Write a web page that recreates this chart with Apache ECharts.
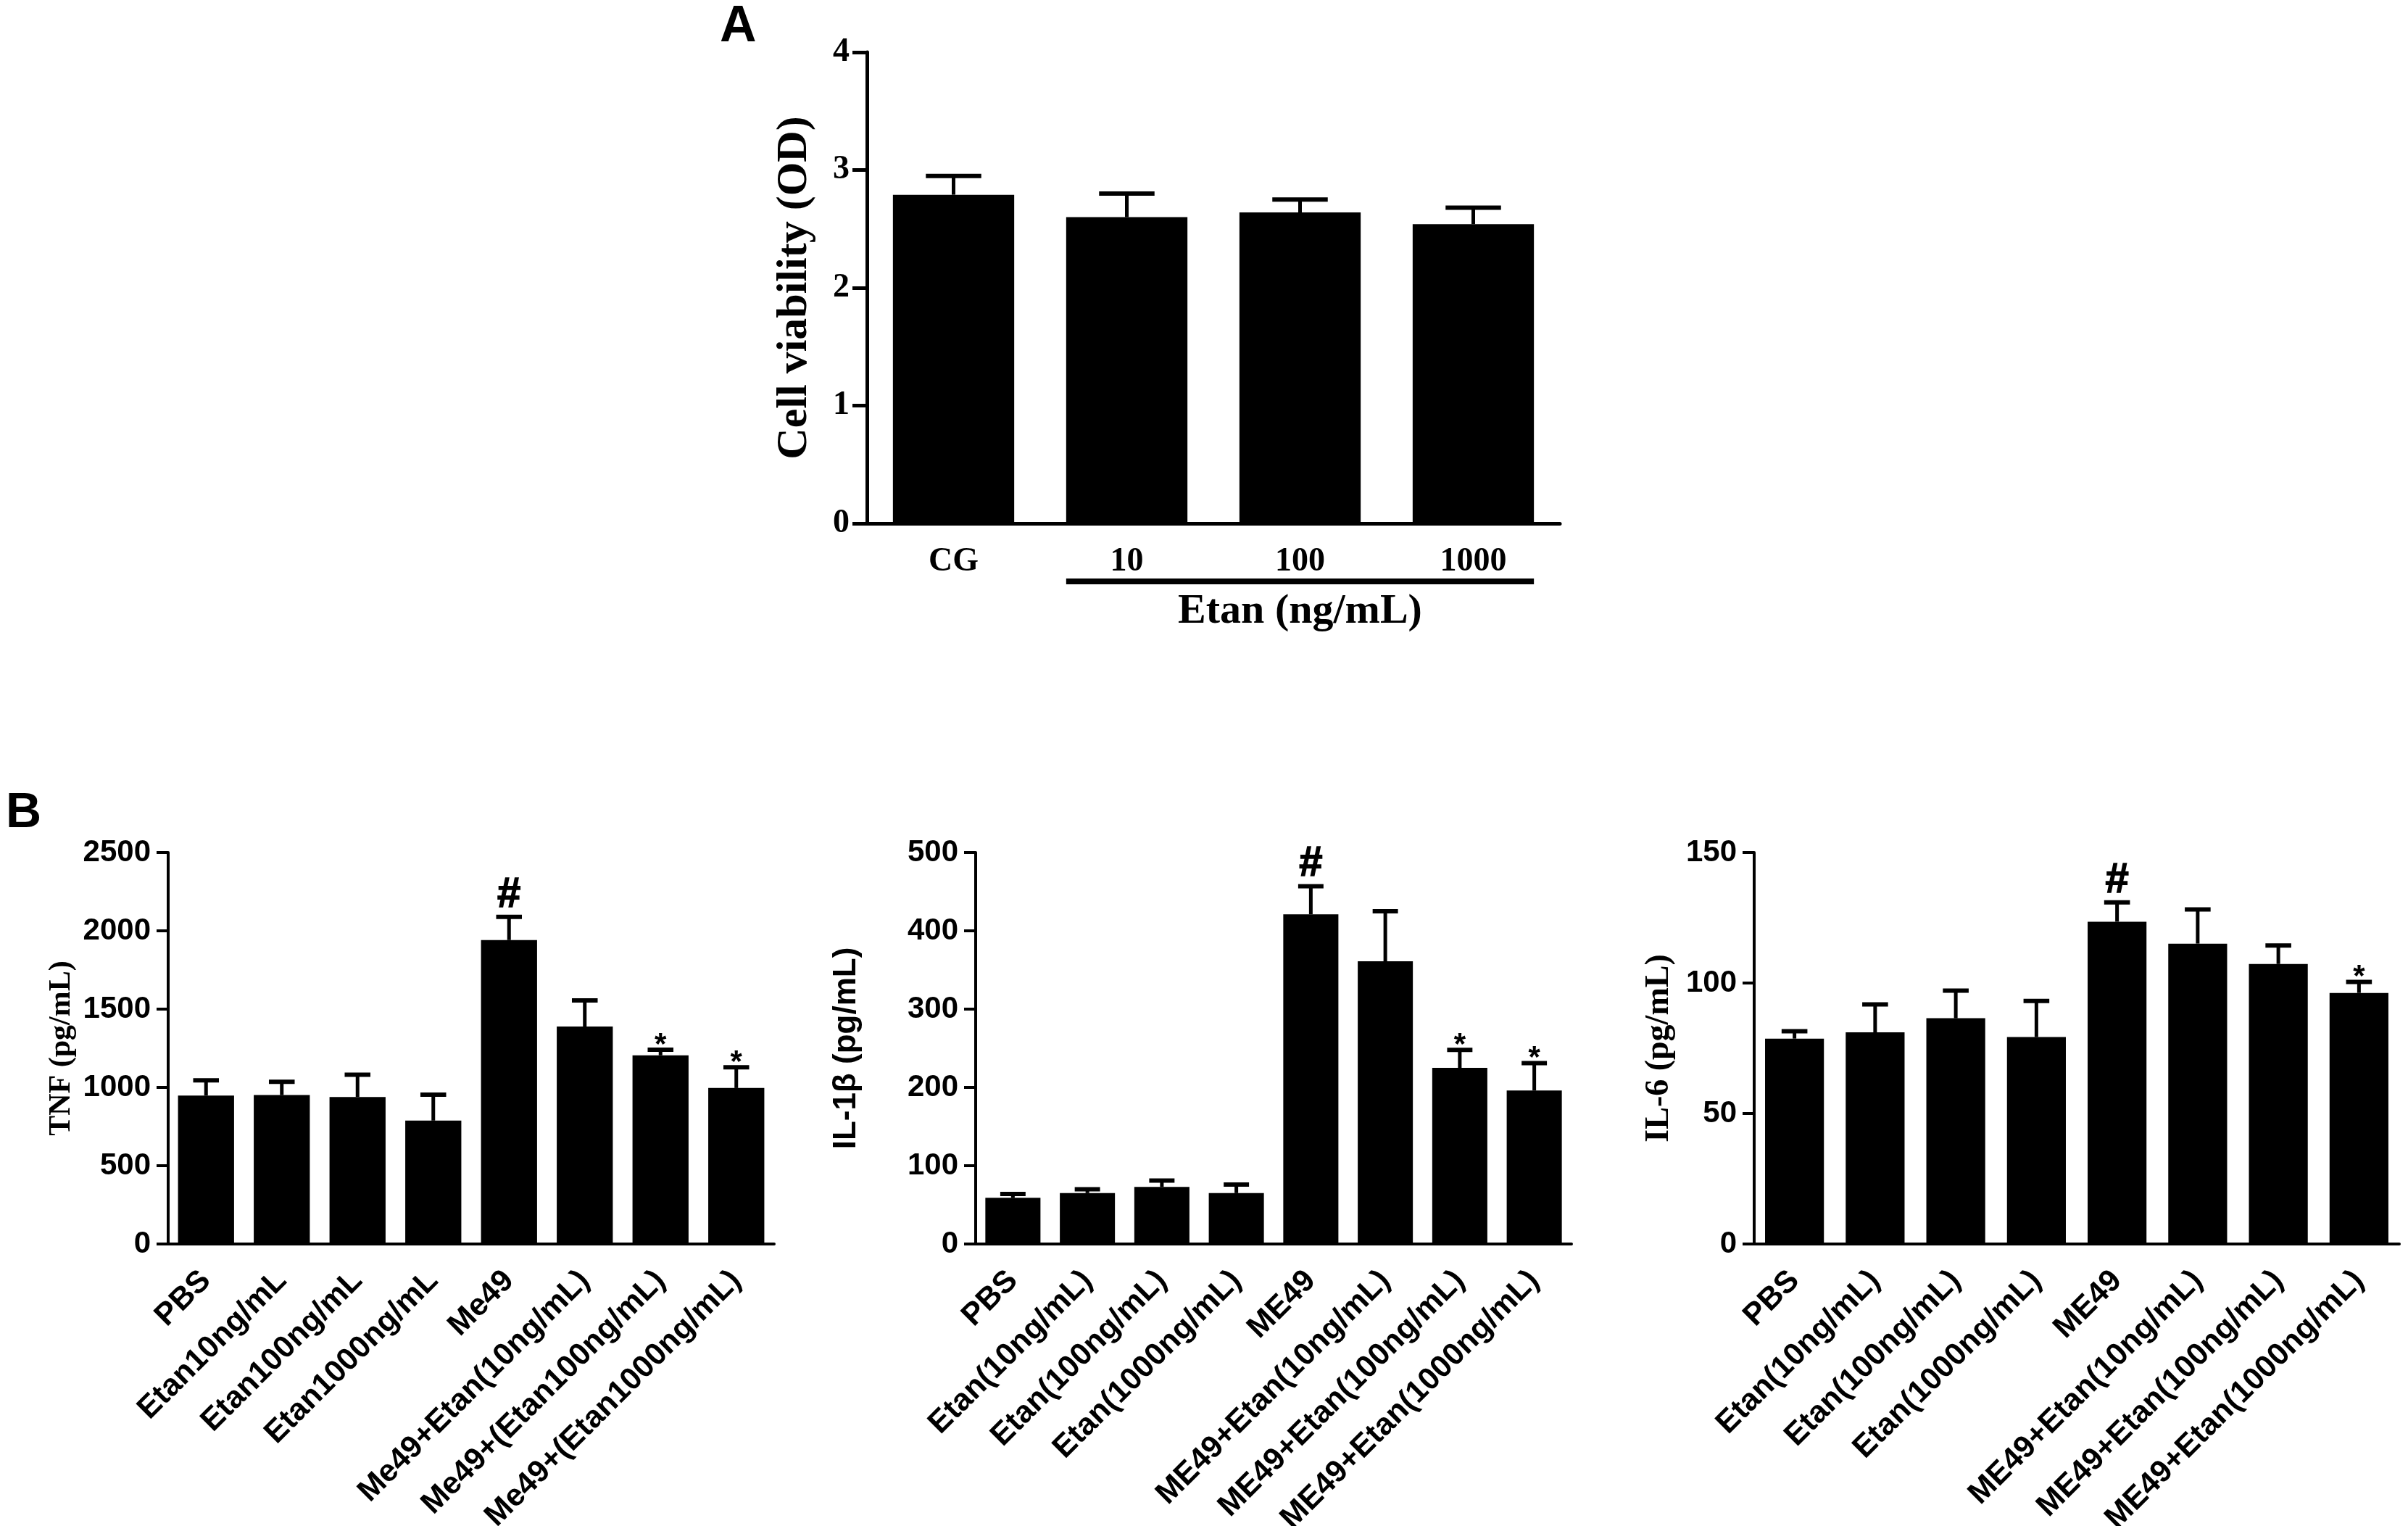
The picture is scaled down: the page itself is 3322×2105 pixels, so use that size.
<!DOCTYPE html>
<html>
<head>
<meta charset="utf-8">
<script src="https://cdn.jsdelivr.net/npm/echarts@6/dist/echarts.min.js"></script>
<style>
html,body{margin:0;padding:0;background:#fff;}
#main{width:3322px;height:2105px;}
</style>
</head>
<body>
<div id="main"></div>
<script>
// panel A: cell viability
const viabCats = ['CG', '10', '100', '1000'];
const viabMean = [2.79, 2.60, 2.64, 2.54];
const viabUpper = [2.95, 2.80, 2.75, 2.68];
const viabTicks = [0, 1, 2, 3, 4];

// panel B: cytokines
const tnfCats = ['PBS', 'Etan10ng/mL', 'Etan100ng/mL', 'Etan1000ng/mL', 'Me49',
  'Me49+Etan(10ng/mL)', 'Me49+(Etan100ng/mL)', 'Me49+(Etan1000ng/mL)'];
const tnfMean = [948, 951, 939, 788, 1941, 1389, 1205, 996];
const tnfUpper = [1045, 1036, 1081, 954, 2089, 1555, 1241, 1129];
const tnfMarks = ['', '', '', '', '#', '', '*', '*'];
const tnfTicks = [0, 500, 1000, 1500, 2000, 2500];

const ilCats = ['PBS', 'Etan(10ng/mL)', 'Etan(100ng/mL)', 'Etan(1000ng/mL)', 'ME49',
  'ME49+Etan(10ng/mL)', 'ME49+Etan(100ng/mL)', 'ME49+Etan(1000ng/mL)'];
const il1bMean = [59, 65, 73, 65, 421, 361, 225, 196];
const il1bUpper = [64, 70, 81, 76, 457, 425, 248, 231];
const il1bMarks = ['', '', '', '', '#', '', '*', '*'];
const il1bTicks = [0, 100, 200, 300, 400, 500];

const il6Mean = [78.7, 81.1, 86.5, 79.3, 123.5, 115.1, 107.3, 96.2];
const il6Upper = [81.5, 91.8, 97.1, 93.1, 130.9, 128.2, 114.4, 100.4];
const il6Marks = ['', '', '', '', '#', '', '', '*'];
const il6Ticks = [0, 50, 100, 150];

const SANS = 'Liberation Sans, Arial, sans-serif';
const SERIF = 'Liberation Serif, Times New Roman, serif';

let chart = echarts.init(document.getElementById('main'), null, {renderer: 'canvas'});

function errRender(marks, capFrac) {
  return function (params, api) {
    const i = api.value(0);
    const pm = api.coord([i, api.value(1)]);
    const pu = api.coord([i, api.value(2)]);
    const half = api.size([1, 0])[0] * capFrac / 2;
    const kids = [
      {type: 'line', shape: {x1: pm[0], y1: pm[1], x2: pu[0], y2: pu[1]}, style: {stroke: '#000', lineWidth: 5}},
      {type: 'line', shape: {x1: pu[0] - half, y1: pu[1], x2: pu[0] + half, y2: pu[1]}, style: {stroke: '#000', lineWidth: 6}}
    ];
    const m = marks ? marks[params.dataIndex] : '';
    if (m) {
      kids.push({
        type: 'text',
        style: {
          text: m, x: pu[0], y: m === '#' ? pu[1] - 30 : pu[1] - 6,
          fill: '#000', stroke: m === '#' ? '#000' : null, lineWidth: m === '#' ? 1.5 : 0,
          align: 'center', verticalAlign: 'middle',
          font: 'bold ' + (m === '#' ? 58 : 42) + 'px ' + SANS
        }
      });
    }
    return {type: 'group', children: kids};
  };
}

function xAx(idx, cats, opts) {
  return Object.assign({
    type: 'category', gridIndex: idx, data: cats,
    axisLine: {lineStyle: {color: '#000', width: 4}},
    axisTick: {alignWithLabel: true, length: 16, lineStyle: {color: '#000', width: 4}},
    axisLabel: {color: '#000', fontWeight: 'bold', fontFamily: SANS, fontSize: 43, rotate: 45, margin: 44, interval: 0},
    splitLine: {show: false}
  }, opts || {});
}

function yAx(idx, ticks, name, nameFont, nameSize, nameGap, labelFont, labelSize) {
  return {
    type: 'value', gridIndex: idx,
    min: ticks[0], max: ticks[ticks.length - 1], interval: ticks[1] - ticks[0],
    name: name, nameLocation: 'middle', nameGap: nameGap,
    nameTextStyle: {color: '#000', fontWeight: 'bold', fontFamily: nameFont, fontSize: nameSize},
    axisLine: {show: true, lineStyle: {color: '#000', width: 4}},
    axisTick: {show: true, length: 16, lineStyle: {color: '#000', width: 4}},
    axisLabel: {color: '#000', fontWeight: 'bold', fontFamily: labelFont, fontSize: labelSize, margin: 24,
      formatter: function (v) { return String(v); }},
    splitLine: {show: false}
  };
}

function errData(mean, upper) {
  return mean.map((v, i) => [i, v, upper[i]]);
}

const option = {
  animation: false,
  backgroundColor: '#fff',
  grid: [
    {left: 1196, top: 72, width: 956, height: 650, outerBoundsMode: 'none', containLabel: false},
    {left: 232, top: 1176, width: 836, height: 540, outerBoundsMode: 'none', containLabel: false},
    {left: 1346, top: 1176, width: 822, height: 540, outerBoundsMode: 'none', containLabel: false},
    {left: 2420, top: 1176, width: 890, height: 540, outerBoundsMode: 'none', containLabel: false}
  ],
  xAxis: [
    xAx(0, viabCats, {
      axisLabel: {color: '#000', fontWeight: 'bold', fontFamily: SERIF, fontSize: 46, margin: 30, interval: 0},
      axisTick: {alignWithLabel: true, length: 18, lineStyle: {color: '#000', width: 5}},
      axisLine: {lineStyle: {color: '#000', width: 5}}
    }),
    xAx(1, tnfCats),
    xAx(2, ilCats),
    xAx(3, ilCats)
  ],
  yAxis: [
    Object.assign(yAx(0, viabTicks, 'Cell viability (OD)', SERIF, 60, 70, SERIF, 46), {
      axisLine: {show: true, lineStyle: {color: '#000', width: 5}},
      axisTick: {show: true, length: 20, lineStyle: {color: '#000', width: 5}}
    }),
    yAx(1, tnfTicks, 'TNF (pg/mL)', SERIF, 42, 126, SANS, 42),
    yAx(2, il1bTicks, 'IL-1β (pg/mL)', SANS, 44, 156, SANS, 42),
    yAx(3, il6Ticks, 'IL-6 (pg/mL)', SERIF, 46, 108, SANS, 42)
  ],
  series: [
    {type: 'bar', xAxisIndex: 0, yAxisIndex: 0, data: viabMean, barWidth: '70%', itemStyle: {color: '#000'}},
    {type: 'custom', xAxisIndex: 0, yAxisIndex: 0, data: errData(viabMean, viabUpper), renderItem: errRender(null, 0.32), clip: false, z: 3},
    {type: 'bar', xAxisIndex: 1, yAxisIndex: 1, data: tnfMean, barWidth: '74%', itemStyle: {color: '#000'}},
    {type: 'custom', xAxisIndex: 1, yAxisIndex: 1, data: errData(tnfMean, tnfUpper), renderItem: errRender(tnfMarks, 0.34), clip: false, z: 3},
    {type: 'bar', xAxisIndex: 2, yAxisIndex: 2, data: il1bMean, barWidth: '74%', itemStyle: {color: '#000'}},
    {type: 'custom', xAxisIndex: 2, yAxisIndex: 2, data: errData(il1bMean, il1bUpper), renderItem: errRender(il1bMarks, 0.34), clip: false, z: 3},
    {type: 'bar', xAxisIndex: 3, yAxisIndex: 3, data: il6Mean, barWidth: '73%', itemStyle: {color: '#000'}},
    {type: 'custom', xAxisIndex: 3, yAxisIndex: 3, data: errData(il6Mean, il6Upper), renderItem: errRender(il6Marks, 0.32), clip: false, z: 3}
  ]
};
chart.setOption(option);

// bracket under the Etan doses in panel A, placed from the axis scale
const c1 = chart.convertToPixel({xAxisIndex: 0, yAxisIndex: 0}, [1, 0]);
const c2 = chart.convertToPixel({xAxisIndex: 0, yAxisIndex: 0}, [2, 0]);
const c3 = chart.convertToPixel({xAxisIndex: 0, yAxisIndex: 0}, [3, 0]);
const bw = c2[0] - c1[0];
const x1 = c1[0] - bw * 0.35, x2 = c3[0] + bw * 0.35;
chart.setOption({
  graphic: [
    {type: 'line', shape: {x1: x1, y1: c1[1] + 80, x2: x2, y2: c1[1] + 80}, style: {stroke: '#000', lineWidth: 8}},
    {type: 'text', x: (x1 + x2) / 2, y: c1[1] + 122, style: {text: 'Etan (ng/mL)', fill: '#000', align: 'center', verticalAlign: 'middle', font: 'bold 58px ' + SERIF}},
    {type: 'text', x: 993, y: 38, style: {text: 'A', fill: '#000', align: 'left', verticalAlign: 'middle', font: 'bold 70px ' + SANS}},
    {type: 'text', x: 8, y: 1122, style: {text: 'B', fill: '#000', align: 'left', verticalAlign: 'middle', font: 'bold 68px ' + SANS}}
  ]
});
</script>
</body>
</html>
